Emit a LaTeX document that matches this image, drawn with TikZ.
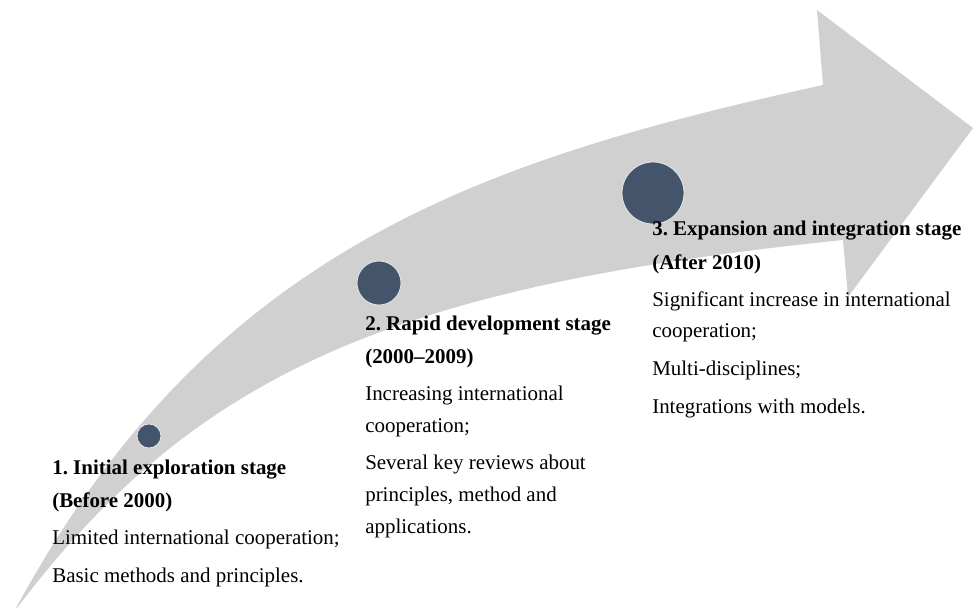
\documentclass[tikz,border=0pt]{standalone}
\usepackage{fontspec}
\setmainfont{Liberation Serif}
\usetikzlibrary{calc}

\definecolor{bandgrey}{RGB}{208,208,208}
\definecolor{dotblue}{RGB}{68,84,106}

\tikzset{
  dot/.style={circle,fill=dotblue,draw=white!85!dotblue,line width=0.6pt,inner sep=0pt},
  stagetext/.style={anchor=base west,align=left,inner sep=0pt,
    font=\fontsize{14.9}{22.5}\selectfont\frenchspacing}
}

\begin{document}
\begin{tikzpicture}[x=0.025cm,y=-0.025cm]
		\useasboundingbox (0,0) rectangle (974,607);
		% curved band with its head
		\fill[bandgrey] (14,612) .. controls (208,250) and (481,160) .. (823,85)
			-- (817,10) -- (973,128) -- (848,297) -- (843,240)
			.. controls (395,286) and (194,372) .. (14,612) -- cycle;
		\node[dot,minimum size=24pt*0.7113] (d1) at (149,436) {};
		\node[dot,minimum size=44pt*0.7113] (d2) at (379,283) {};
		\node[dot,minimum size=62pt*0.7113] (d3) at (653,193) {};
		% texts are placed by the baseline of their last line
		\node[stagetext] (t1) at (52,582) {\textbf{1. Initial exploration stage}\\[1.3pt]
			\textbf{(Before 2000)}\\[3.8pt]
			Limited international cooperation;\\[4.2pt]
			Basic methods and principles.};
		\node[stagetext] (t2) at (365,533) {\textbf{2. Rapid development stage}\\[1.3pt]
			\textbf{(2000--2009)}\\[3.8pt]
			Increasing international\\
			cooperation;\\[4.2pt]
			Several key reviews about\\
			principles, method and\\
			applications.};
		\node[stagetext] (t3) at (652,413) {\textbf{3. Expansion and integration stage}\\[1.3pt]
			\textbf{(After 2010)}\\[3.8pt]
			Significant increase in international\\
			cooperation;\\[4.2pt]
			Multi-disciplines;\\[4.2pt]
			Integrations with models.};
	\end{tikzpicture}
\end{document}
